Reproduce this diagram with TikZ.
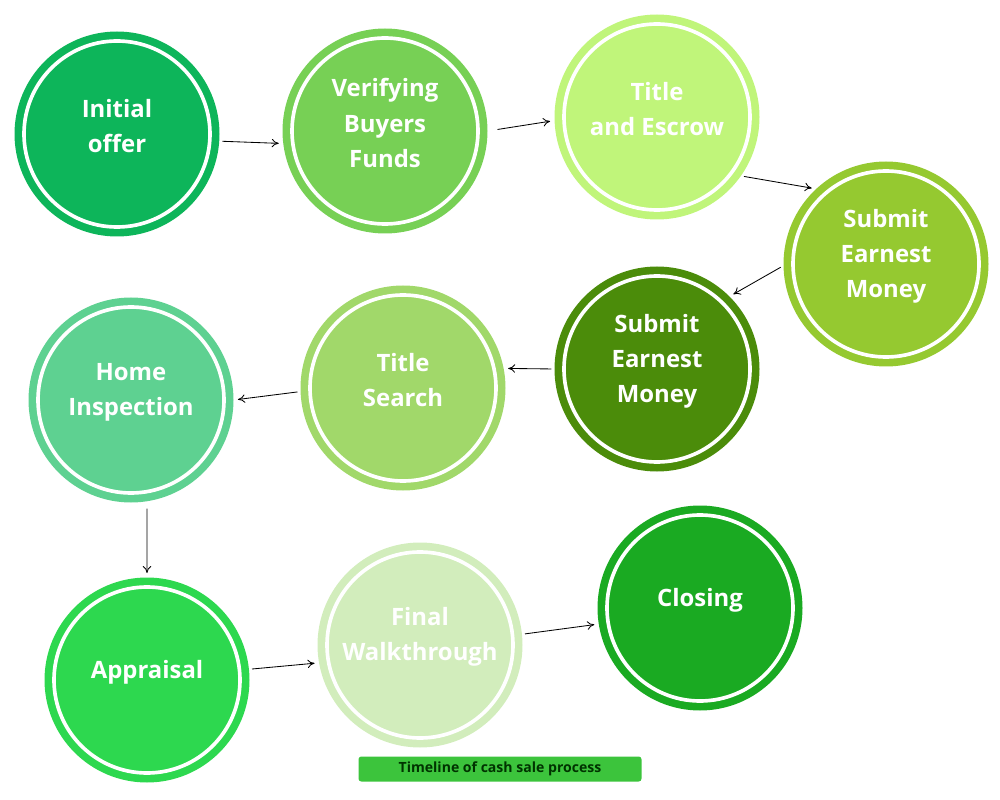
\documentclass[tikz,border=0pt]{standalone}
\usepackage{fontspec}
\setmainfont{Open Sans}
\usetikzlibrary{arrows.meta}
\definecolor{cOffer}{HTML}{0DB55A}
\definecolor{cFunds}{HTML}{77D055}
\definecolor{cEscrow}{HTML}{C0F57A}
\definecolor{cEarnA}{HTML}{95C930}
\definecolor{cEarnB}{HTML}{4B8C0A}
\definecolor{cSearch}{HTML}{A1D86A}
\definecolor{cInspect}{HTML}{5ED191}
\definecolor{cApprais}{HTML}{2DD84F}
\definecolor{cWalk}{HTML}{D2EDBC}
\definecolor{cClosing}{HTML}{1AAA22}
\definecolor{cTag}{HTML}{3CC43C}
\tikzset{
  step circle/.style={circle, minimum size=205*0.025cm, inner sep=0pt, text=white,
    align=center, font=\fontsize{17}{25}\selectfont\bfseries},
  flow/.style={-{To[length=5pt,width=6pt]}, black, line width=0.6pt, shorten <=2pt, shorten >=3pt}
}
\begin{document}
\begin{tikzpicture}[x=0.025cm, y=-0.025cm]
\useasboundingbox (0,0) rectangle (1000,800);

% Kreise
\foreach \nm/\cx/\cy/\col/\txt in {
  offer/117/134/cOffer/{Initial\\offer},
  funds/385/131/cFunds/{Verifying\\Buyers\\ Funds},
  escrow/657/117/cEscrow/{Title\\ and Escrow},
  earnA/886/264/cEarnA/{Submit\\Earnest\\Money},
  earnB/657/369/cEarnB/{Submit\\Earnest\\Money},
  search/403/388/cSearch/{Title\\Search},
  inspect/131/400/cInspect/{Home\\Inspection},
  apprais/147/680/cApprais/{Appraisal},
  walk/420/645/cWalk/{Final\\Walkthrough},
  closing/700/608/cClosing/{Closing}}
{
  \node[step circle, fill=\col] (\nm) at (\cx,\cy) {};
  \draw[white, line width=2.6pt] (\nm.center) circle (93*0.025cm);
  \node[text=white, align=center, font=\fontsize{17}{25}\selectfont\bfseries] at (\cx,\cy-8) {\txt};
}

% Pfeile
\draw[flow] (offer.-4) -- (funds.187);
\draw[flow, shorten <=7pt] (funds.0) -- (escrow.182);
\draw[flow] (escrow.-35) -- (earnA.133);
\draw[flow] (earnA.181) -- (earnB.45);
\draw[flow] (earnB.180) -- (search.11);
\draw[flow] (search.182) -- (inspect.0);
\draw[flow, shorten <=5pt] (inspect.-81) -- (apprais.90);
\draw[flow] (apprais.6) -- (walk.190);
\draw[flow] (walk.6) -- (closing.189);

% Beschriftung
\node[fill=cTag, rounded corners=2pt, minimum width=283*0.025cm, minimum height=25*0.025cm,
  inner sep=0pt, font=\fontsize{10}{12}\selectfont\bfseries, text=black!80!green] (tag)
  at (500,769) {Timeline of cash sale process};
\end{tikzpicture}
\end{document}
